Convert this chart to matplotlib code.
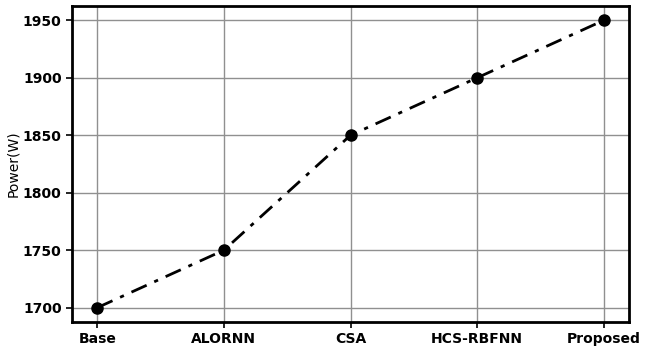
import matplotlib
matplotlib.use('Agg')
import matplotlib.pyplot as plt

methods = ['Base', 'ALORNN', 'CSA', 'HCS-RBFNN', 'Proposed']
power = [1700, 1750, 1850, 1900, 1950]

fig = plt.figure(figsize=(6.46, 3.52), dpi=100)
ax = fig.add_axes([72/646, 30/352, 557/646, 316/352])

ax.plot(methods, power, color='black', linestyle=(0, (6, 3, 1.5, 3)), linewidth=2,
        marker='o', markersize=8, zorder=3)
ax.grid(True, color='#909090', linewidth=1)
ax.set_ylabel('Power(W)', fontsize=10, labelpad=2)
ax.set_yticks([1700, 1750, 1800, 1850, 1900, 1950])
for lab in ax.get_xticklabels() + ax.get_yticklabels():
    lab.set_fontweight('bold')
    lab.set_fontsize(10)
for s in ax.spines.values():
    s.set_linewidth(2)
ax.tick_params(width=1.2, length=4)

fig.savefig('out.png', dpi=100)
